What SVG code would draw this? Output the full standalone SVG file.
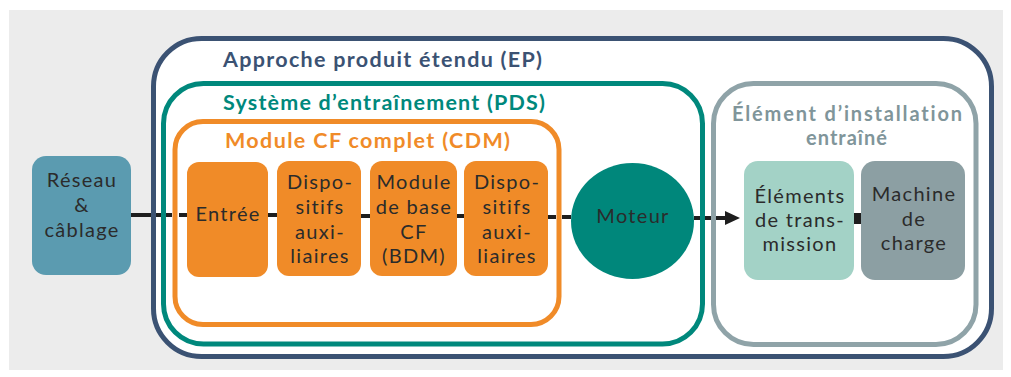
<svg xmlns="http://www.w3.org/2000/svg" width="1011" height="377" viewBox="0 0 1011 377">
<style>
.t{font-family:Lato,"Open Sans","Liberation Sans",sans-serif;font-size:20px;letter-spacing:1.3px;fill:#2b2b2b;text-anchor:middle}
.h{font-family:Lato,"Open Sans","Liberation Sans",sans-serif;font-size:21.5px;font-weight:700;font-variant-ligatures:none}
.h2{font-family:Lato,"Open Sans","Liberation Sans",sans-serif;font-size:20px;font-weight:700;font-variant-ligatures:none;fill:#80959a}
.c{stroke:#1e1e1e;stroke-width:4;fill:none}
</style>
<rect width="1011" height="377" fill="#ffffff"/>
<rect x="9" y="10" width="994" height="360" fill="#ececec"/>

<g id="ep">
<rect x="153.5" y="38.5" width="838" height="318" rx="48" fill="#ffffff" stroke="#3b5273" stroke-width="5"/>
<text class="h" x="223" y="67" fill="#3b5273" textLength="319" lengthAdjust="spacing">Approche produit étendu (EP)</text>
</g>
<g id="pds">
<rect x="163.5" y="83.5" width="539" height="260.5" rx="40" fill="#ffffff" stroke="#00887c" stroke-width="5"/>
<text class="h" x="223" y="110" fill="#00887c" textLength="322" lengthAdjust="spacing">Système d’entraînement (PDS)</text>
</g>
<g id="install">
<rect x="713.5" y="83.5" width="262.5" height="261" rx="40" fill="#ffffff" stroke="#8fa3a8" stroke-width="5"/>
<text class="h2" x="732" y="121" textLength="230" lengthAdjust="spacing">Élément d’installation</text>
<text class="h2" x="847" y="145" text-anchor="middle" letter-spacing="1">entraîné</text>
</g>
<g id="cdm">
<rect x="175" y="121.5" width="384" height="203" rx="28" fill="#ffffff" stroke="#f08b28" stroke-width="5"/>
<text class="h" x="225" y="148" fill="#f08b28" textLength="285" lengthAdjust="spacing">Module CF complet (CDM)</text>
</g>

<g id="connectors">
<line class="c" x1="131" y1="215" x2="151" y2="215"/>
<line class="c" x1="156" y1="215" x2="161" y2="215"/>
<line class="c" x1="166" y1="215" x2="172" y2="215"/>
<line class="c" x1="179" y1="215" x2="187" y2="215"/>
<line class="c" x1="268" y1="215" x2="277" y2="215"/>
<line class="c" x1="361" y1="216" x2="370" y2="216"/>
<line class="c" x1="457" y1="216" x2="464" y2="216"/>
<line class="c" x1="548" y1="217" x2="556" y2="217"/>
<line class="c" x1="562" y1="217" x2="571" y2="217"/>
<line class="c" x1="694" y1="218" x2="700" y2="218"/>
<line class="c" x1="705" y1="218" x2="711" y2="218"/>
<line class="c" x1="716" y1="218" x2="727" y2="218"/>
<path d="M725,211 L740,218 L725,225 z" fill="#1e1e1e"/>
<rect x="854" y="213" width="8" height="11" fill="#1e1e1e"/>
</g>

<g id="reseau">
<rect x="32" y="156" width="99" height="119" rx="14" fill="#5b9bb0"/>
<text class="t" x="82" y="187">Réseau</text>
<text class="t" x="82" y="212">&amp;</text>
<text class="t" x="82" y="237">câblage</text>
</g>
<g id="entree">
<rect x="187" y="162" width="81" height="115" rx="12" fill="#f08b28"/>
<text class="t" x="228" y="221">Entrée</text>
</g>
<g id="disp1">
<rect x="277" y="161" width="84" height="115" rx="12" fill="#f08b28"/>
<text class="t" x="320" y="189">Dispo-</text>
<text class="t" x="320" y="214">sitifs</text>
<text class="t" x="320" y="239">auxi-</text>
<text class="t" x="320" y="263">liaires</text>
</g>
<g id="bdm">
<rect x="370" y="161" width="87" height="115" rx="12" fill="#f08b28"/>
<text class="t" x="414" y="189">Module</text>
<text class="t" x="414" y="214">de base</text>
<text class="t" x="414" y="239">CF</text>
<text class="t" x="414" y="263">(BDM)</text>
</g>
<g id="disp2">
<rect x="464" y="161" width="84" height="115" rx="12" fill="#f08b28"/>
<text class="t" x="507" y="189">Dispo-</text>
<text class="t" x="507" y="214">sitifs</text>
<text class="t" x="507" y="239">auxi-</text>
<text class="t" x="507" y="263">liaires</text>
</g>
<g id="moteur">
<ellipse cx="632.5" cy="221" rx="61.5" ry="58" fill="#00877b"/>
<text class="t" x="633" y="223">Moteur</text>
</g>
<g id="transmission">
<rect x="744" y="161" width="110" height="119" rx="14" fill="#a3d2c6"/>
<text class="t" x="800" y="203">Éléments</text>
<text class="t" x="800" y="227">de trans-</text>
<text class="t" x="800" y="251">mission</text>
</g>
<g id="machine">
<rect x="861" y="161" width="104" height="119" rx="14" fill="#8c9fa3"/>
<text class="t" x="914" y="201">Machine</text>
<text class="t" x="914" y="226">de</text>
<text class="t" x="914" y="250">charge</text>
</g>
</svg>
